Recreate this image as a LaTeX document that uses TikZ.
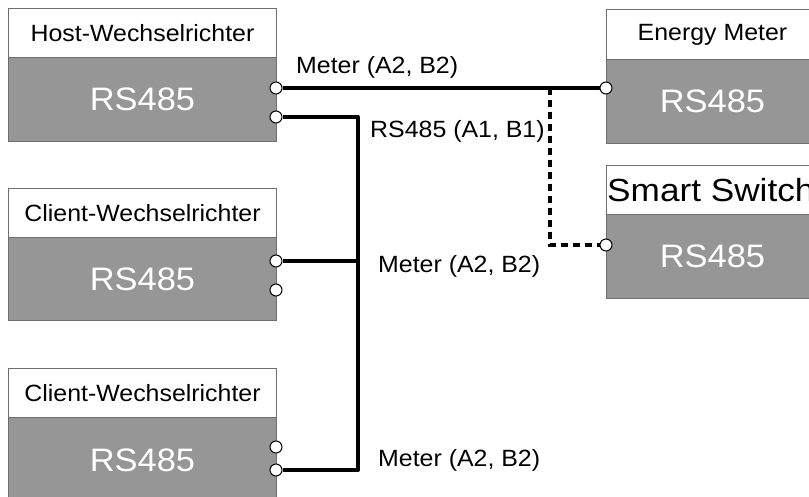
\documentclass[tikz,border=0pt]{standalone}
\usepackage{fontspec}
\setmainfont{Liberation Sans}
\newcommand{\lbl}[1]{\scalebox{1.06}[1]{#1}}
\definecolor{boxgray}{RGB}{150,150,150}
\definecolor{edgegray}{RGB}{110,110,110}
\tikzset{
  hdr/.style={draw=edgegray, fill=white, line width=1pt, anchor=north west, inner sep=0pt,
    minimum height=49pt, font=\fontsize{23.5}{26}\selectfont},
  body/.style={draw=edgegray, fill=boxgray, line width=1pt, anchor=north west, inner sep=0pt,
    text=white, font=\fontsize{32.5}{36}\selectfont},
  port/.style={circle, draw=black, fill=white, line width=1pt, minimum size=12pt, inner sep=0pt},
  wire/.style={line width=4pt, line join=round},
  dwire/.style={line width=3.5pt, dash pattern=on 7pt off 5pt},
  lab/.style={anchor=west, inner sep=0pt, font=\fontsize{23.5}{26}\selectfont}
}
\begin{document}
\begin{tikzpicture}[x=1pt,y=-1pt]
\useasboundingbox (0,0) rectangle (809,496);
% Host
\node[body, minimum width=268pt, minimum height=84pt] (hostb) at (8,57) {\lbl{RS485}};
\node[hdr, minimum width=268pt] (hosth) at (8,8) {\lbl{Host-Wechselrichter}};
% Client 1
\node[body, minimum width=268pt, minimum height=83pt] (c1b) at (8,237) {\lbl{RS485}};
\node[hdr, minimum width=268pt] (c1h) at (8,188) {\lbl{Client-Wechselrichter}};
% Client 2
\node[body, minimum width=268pt, minimum height=85pt] (c2b) at (8,417) {\lbl{RS485}};
\node[hdr, minimum width=268pt] (c2h) at (8,368) {\lbl{Client-Wechselrichter}};
% Energy Meter
\node[body, minimum width=212pt, minimum height=84pt] (emb) at (606,59) {\lbl{RS485}};
\node[hdr, minimum width=212pt, minimum height=50pt] (emh) at (606,9) {\lbl{Energy Meter}};
% Smart Switch
\node[body, minimum width=212pt, minimum height=84pt] (ssb) at (606,214) {\lbl{RS485}};
\node[hdr, minimum width=212pt] (ssh) at (606,165) {};
\node[anchor=west, inner sep=0pt, font=\fontsize{32}{36}\selectfont] (sst) at (607,190) {\scalebox{1.1}[1]{Smart Switch}};
% ports
\node[port] (h1) at (276,88) {};
\node[port] (h2) at (276,117) {};
\node[port] (c1p1) at (276,261) {};
\node[port] (c1p2) at (276,290) {};
\node[port] (c2p1) at (276,447) {};
\node[port] (c2p2) at (276,470) {};
\node[port] (emp) at (606,88) {};
\node[port] (ssp) at (606,245) {};
% wires
\coordinate (tap) at (550,88);
\coordinate (busT) at (358,117);
\coordinate (busM) at (358,261);
\coordinate (busB) at (358,470);
\draw[wire] (h1) -- (emp);
\draw[wire] (h2) -- (busT) -- (busB) -- (c2p2);
\draw[wire] (c1p1) -- (busM);
\draw[dwire] (tap) |- (ssp);
% labels
\node[lab] (l1) at (296,67) {\lbl{Meter (A2, B2)}};
\node[lab] (l2) at (370,131) {\lbl{RS485 (A1, B1)}};
\node[lab] (l3) at (378,266) {\lbl{Meter (A2, B2)}};
\node[lab] (l4) at (378,460) {\lbl{Meter (A2, B2)}};
\end{tikzpicture}
\end{document}
